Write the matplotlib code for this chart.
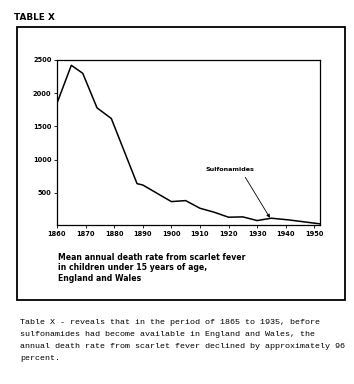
import matplotlib
matplotlib.use('Agg')
import matplotlib.pyplot as plt
from matplotlib.patches import Rectangle

# Mean annual death rate, scarlet fever, children < 15, England and Wales
years = [1860, 1865, 1869, 1874, 1879, 1888, 1890, 1900, 1905, 1910, 1915,
         1920, 1925, 1930, 1935, 1941, 1952]
rates = [1850, 2420, 2300, 1780, 1620, 640, 620, 370, 385, 270, 210,
         135, 140, 85, 120, 95, 35]

xticks = [1860, 1870, 1880, 1890, 1900, 1910, 1920, 1930, 1940, 1950]
yticks = [500, 1000, 1500, 2000, 2500]

caption = ("Mean annual death rate from scarlet fever\n"
           "in children under 15 years of age,\n"
           "England and Wales")
note = ["Table X - reveals that in the period of 1865 to 1935, before",
        "sulfonamides had become available in England and Wales, the",
        "annual death rate from scarlet fever declined by approximately 96",
        "percent."]

W, H = 354, 384
fig = plt.figure(figsize=(W / 100, H / 100), dpi=100)

# outer frame around chart
fig.patches.append(Rectangle((17 / W, 1 - 300 / H), (345 - 17) / W, (300 - 27) / H,
                             transform=fig.transFigure, fill=False,
                             edgecolor='black', linewidth=1.3))
fig.text(14 / W, 1 - 17 / H, "TABLE X", fontsize=6.4, fontweight='bold',
         va='center', ha='left')

ax = fig.add_axes([57 / W, 1 - 225 / H, (320 - 57) / W, (225 - 60) / H])
ax.plot(years, rates, color='black', linewidth=1.1)
ax.set_xlim(1860, 1952)
ax.set_ylim(18, 2500)
ax.set_xticks(xticks)
ax.set_yticks(yticks)
ax.tick_params(labelsize=4.8, length=2, width=0.6, pad=2)
for lab in ax.get_xticklabels() + ax.get_yticklabels():
    lab.set_fontweight('bold')
for s in ax.spines.values():
    s.set_linewidth(0.9)

ax.annotate("Sulfonamides", xy=(1934.5, 125), xytext=(1920.5, 850),
            fontsize=4.6, fontweight='bold', ha='center', va='center',
            arrowprops=dict(arrowstyle='-|>', color='black', lw=0.6,
                            mutation_scale=5, shrinkA=2, shrinkB=0,
                            relpos=(0.75, 0)))

fig.text(58 / W, 1 - 253 / H, caption, fontsize=5.6, fontweight='bold',
         va='top', ha='left', linespacing=1.2)

for i, line in enumerate(note):
    fig.text(20 / W, 1 - (323 + 12 * i) / H, line, fontsize=6.0,
             family='Liberation Mono', va='center', ha='left')

fig.savefig("out.png", dpi=100)
